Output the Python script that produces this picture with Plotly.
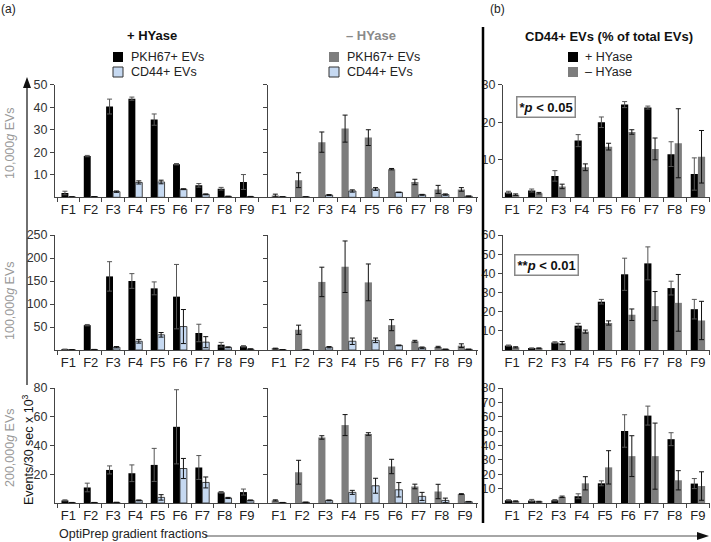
import plotly.graph_objects as go

W, H = 711, 542

fractions = ["F1", "F2", "F3", "F4", "F5", "F6", "F7", "F8", "F9"]

# 10,000g EVs
pkh_plus_10k = [1.9, 18.3, 40.3, 43.8, 34.5, 14.7, 5.3, 3.8, 6.8]
pkh_plus_10k_err = [0.8, 0.3, 3.3, 0.7, 2.5, 0.3, 0.8, 0.6, 3.3]
cd44_plus_10k = [0.2, 0.3, 2.5, 6.6, 6.8, 3.6, 1.3, 0.4, 0.3]
cd44_plus_10k_err = [0, 0, 0.3, 0.7, 0.8, 0.2, 0.2, 0.1, 0.1]
pkh_minus_10k = [0.8, 7.6, 24.5, 30.5, 26.5, 12.5, 6.8, 3.5, 3.5]
pkh_minus_10k_err = [0.6, 3.3, 4.5, 6.0, 3.5, 0.3, 1.2, 1.8, 0.8]
cd44_minus_10k = [0.2, 0.2, 1.0, 2.8, 3.7, 2.2, 1.1, 1.2, 0.5]
cd44_minus_10k_err = [0, 0, 0.2, 0.5, 0.6, 0.1, 0.2, 0.3, 0.1]
pct_plus_10k = [1.3, 1.8, 5.7, 15.1, 20.0, 24.7, 23.9, 11.5, 6.2]
pct_plus_10k_err = [0.3, 0.4, 1.4, 1.6, 1.4, 0.8, 0.4, 3.3, 4.3]
pct_minus_10k = [0.7, 1.1, 2.9, 8.0, 13.5, 17.4, 12.9, 14.4, 10.8]
pct_minus_10k_err = [0.2, 0.2, 0.6, 0.9, 0.9, 0.6, 2.9, 9.2, 7.0]

# 100,000g EVs
pkh_plus_100k = [1.5, 54, 160, 150, 134, 116, 37, 11.5, 8]
pkh_plus_100k_err = [0.5, 1.5, 32, 16, 14, 70, 19, 5, 1.5]
cd44_plus_100k = [0.5, 1, 6, 19, 33, 51, 17, 5.8, 2]
cd44_plus_100k_err = [0.2, 0.3, 1.5, 4, 5, 37, 12, 1, 0.5]
pkh_minus_100k = [3, 44, 148, 181, 147, 54, 19, 6.5, 9.4]
pkh_minus_100k_err = [1, 10, 32, 56, 40, 12, 2, 1.5, 4]
cd44_minus_100k = [0.5, 1, 6, 19, 21, 10, 5, 1.5, 1.5]
cd44_minus_100k_err = [0.2, 0.3, 1.5, 7, 5, 0.8, 1.5, 0.5, 0.5]
pct_plus_100k = [2.3, 0.9, 3.9, 12.7, 25.2, 39.5, 45.2, 32.3, 21.3]
pct_plus_100k_err = [0.3, 0.2, 0.4, 1.2, 1.2, 8.4, 8.6, 3.6, 5.1]
pct_minus_100k = [1.4, 0.9, 3.6, 9.6, 14.1, 18.4, 22.9, 24.6, 15.4]
pct_minus_100k_err = [0.3, 0.2, 0.8, 0.8, 1.1, 3.0, 7.6, 14.8, 10.0]

# 200,000g EVs
pkh_plus_200k = [1.8, 10.8, 23, 20.7, 26.5, 53, 24.7, 7.4, 7.6]
pkh_plus_200k_err = [0.4, 3, 2.8, 5.8, 11.5, 25.8, 8.3, 0.6, 2.1]
cd44_plus_200k = [0.3, 0.3, 0.4, 1.8, 3.9, 24, 14.3, 3.5, 1.8]
cd44_plus_200k_err = [0.1, 0.1, 0.1, 0.3, 1.9, 7, 3.8, 0.4, 0.3]
pkh_minus_200k = [1.8, 21.4, 45.6, 54.2, 48, 25.4, 11.5, 8, 6.2]
pkh_minus_200k_err = [0.4, 8.3, 1.2, 7.3, 0.9, 5, 1.6, 5, 0.3]
cd44_minus_200k = [0.3, 0.5, 1.8, 7.4, 12, 9.2, 4.6, 1.8, 0.9]
cd44_minus_200k_err = [0.1, 0.1, 0.3, 1.4, 5.2, 5.0, 2.8, 1.6, 0.2]
pct_plus_200k = [1.9, 1.7, 1.9, 4.7, 13.7, 50.1, 60.8, 44.4, 13.5]
pct_plus_200k_err = [0.4, 0.8, 0.5, 1.7, 1.7, 11.3, 6.6, 4.5, 3.5]
pct_minus_200k = [1.2, 0.9, 4.3, 13.7, 24.8, 32.6, 32.6, 15.8, 11.8]
pct_minus_200k_err = [0.3, 0.3, 0.5, 4.6, 11.6, 14.2, 23, 6.7, 9.9]

BLACK = "#000000"
GREY = "#7d7d7d"
BLUE = "#c6d9f1"
FONT = "Liberation Sans, Arial, sans-serif"


def px(x):
    return x / W


def py(y):
    return 1 - y / H


# pixel geometry of panels
cols = [(55, 267, [-0.6, 8.9]), (268, 478, [-0.47, 8.56]), (503, 710, [-0.39, 8.52])]
rows = [(84.7, 197.3), (235, 350), (388, 503)]
y_ranges = [[[0, 50], [0, 50], [0, 30]],
            [[0, 250], [0, 250], [0, 60]],
            [[0, 80], [0, 80], [0, 80]]]
y_ticks = [[[10, 20, 30, 40, 50]] * 2 + [[10, 20, 30]],
           [[50, 100, 150, 200, 250]] * 2 + [[10, 20, 30, 40, 50, 60]],
           [[20, 40, 60, 80]] * 2 + [[10, 20, 30, 40, 50, 60, 70, 80]]]

panels = [
    [(pkh_plus_10k, pkh_plus_10k_err, cd44_plus_10k, cd44_plus_10k_err, BLACK, BLUE),
     (pkh_minus_10k, pkh_minus_10k_err, cd44_minus_10k, cd44_minus_10k_err, GREY, BLUE),
     (pct_plus_10k, pct_plus_10k_err, pct_minus_10k, pct_minus_10k_err, BLACK, GREY)],
    [(pkh_plus_100k, pkh_plus_100k_err, cd44_plus_100k, cd44_plus_100k_err, BLACK, BLUE),
     (pkh_minus_100k, pkh_minus_100k_err, cd44_minus_100k, cd44_minus_100k_err, GREY, BLUE),
     (pct_plus_100k, pct_plus_100k_err, pct_minus_100k, pct_minus_100k_err, BLACK, GREY)],
    [(pkh_plus_200k, pkh_plus_200k_err, cd44_plus_200k, cd44_plus_200k_err, BLACK, BLUE),
     (pkh_minus_200k, pkh_minus_200k_err, cd44_minus_200k, cd44_minus_200k_err, GREY, BLUE),
     (pct_plus_200k, pct_plus_200k_err, pct_minus_200k, pct_minus_200k_err, BLACK, GREY)],
]

fig = go.Figure()
layout = {}
k = 0
for r in range(3):
    for c in range(3):
        k += 1
        xa = "x" if k == 1 else "x%d" % k
        ya = "y" if k == 1 else "y%d" % k
        v1, e1, v2, e2, c1, c2 = panels[r][c]
        fig.add_trace(go.Bar(
            x=fractions, y=v1, xaxis=xa, yaxis=ya, offsetgroup="a", marker_color=c1,
            marker_line_width=0,
            error_y=dict(type="data", array=e1, color="#555" if c1 == BLACK else "#111",
                         thickness=1, width=2.5),
            showlegend=False))
        line_w = 0.9 if c2 == BLUE else 0
        fig.add_trace(go.Bar(
            x=fractions, y=v2, xaxis=xa, yaxis=ya, offsetgroup="b", marker_color=c2,
            marker_line=dict(color="#333", width=line_w),
            error_y=dict(type="data", array=e2, color="#111", thickness=1, width=2.5),
            showlegend=False))
        x0, x1, xr = cols[c]
        y0, y1 = rows[r]
        layout["xaxis" if k == 1 else "xaxis%d" % k] = dict(
            domain=[px(x0), px(x1)], anchor=ya, range=xr, type="category",
            showline=True, linecolor="#444", linewidth=1, ticks="outside",
            tickson="boundaries", ticklen=4, tickcolor="#444", tickangle=0,
            tickfont=dict(size=13, color="#222", family=FONT), showgrid=False,
            zeroline=False, fixedrange=True, automargin=False)
        layout["yaxis" if k == 1 else "yaxis%d" % k] = dict(
            domain=[py(y1), py(y0)], anchor=xa, range=y_ranges[r][c],
            tickvals=y_ticks[r][c], showticklabels=(c != 1),
            showline=True, linecolor="#444", linewidth=1, ticks="outside",
            ticklen=4, tickcolor="#444", tickfont=dict(size=12.5, color="#333", family=FONT),
            showgrid=False, zeroline=False, fixedrange=True, automargin=False)

annotations = []


def text(x, y, s, size=12, color="#222", xanchor="center", textangle=0, **kw):
    annotations.append(dict(x=px(x), y=py(y), xref="paper", yref="paper", text=s,
                            showarrow=False, xanchor=xanchor, yanchor="middle",
                            textangle=textangle,
                            font=dict(size=size, color=color, family=FONT), **kw))


text(8, 9, "(a)", size=12)
text(497, 9, "(b)", size=12)
text(152, 36, "<b>+ HYase</b>", size=13, color="#111")
text(371, 36, "<b>– HYase</b>", size=13, color="#8a8a8a")
text(609, 37, "<b>CD44+ EVs (% of total EVs)</b>", size=13, color="#111")

text(129, 57, "PKH67+ EVs", size=12.5, xanchor="left")
text(129, 72, "CD44+ EVs", size=12.5, xanchor="left")
text(345, 57, "PKH67+ EVs", size=12.5, xanchor="left")
text(345, 72, "CD44+ EVs", size=12.5, xanchor="left")
text(583, 57, "+ HYase", size=12.5, xanchor="left")
text(583, 72, "– HYase", size=12.5, xanchor="left")

text(546, 107, "<b>*<i>p</i> &lt; 0.05</b>", size=13, color="#111",
     bordercolor="#888", borderwidth=1.5, borderpad=2)
text(546, 265, "<b>**<i>p</i> &lt; 0.01</b>", size=13, color="#111",
     bordercolor="#888", borderwidth=1.5, borderpad=2)

text(10, 143, "10,000<i>g</i> EVs", size=12.5, color="#999", textangle=-90)
text(10, 301, "100,000<i>g</i> EVs", size=12.5, color="#999", textangle=-90)
text(10, 448, "200,000<i>g</i> EVs", size=12.5, color="#999", textangle=-90)
text(28, 450, "Events/30 sec x 10<sup>3</sup>", size=12.5, color="#111", textangle=-90)

text(57, 534, "OptiPrep gradient fractions", size=12.5, xanchor="left")

shapes = []
# vertical axis arrow line and head
shapes.append(dict(type="line", xref="paper", yref="paper", x0=px(27), x1=px(27),
                   y0=py(385), y1=py(86), line=dict(color="#333", width=1.4)))
shapes.append(dict(type="path", xref="paper", yref="paper",
                   path="M %f %f L %f %f L %f %f Z" % (px(23), py(88), px(27), py(77),
                                                      px(31), py(88)),
                   fillcolor="#111", line=dict(width=0)))
# horizontal gradient arrow line and head
shapes.append(dict(type="line", xref="paper", yref="paper", x0=px(205), x1=px(700),
                   y0=py(536), y1=py(536), line=dict(color="#888", width=1.6)))
shapes.append(dict(type="path", xref="paper", yref="paper",
                   path="M %f %f L %f %f L %f %f Z" % (px(697), py(532), px(709), py(536),
                                                      px(697), py(540)),
                   fillcolor="#111", line=dict(width=0)))
# divider between (a) and (b)
shapes.append(dict(type="line", xref="paper", yref="paper", x0=px(483), x1=px(483),
                   y0=py(27), y1=py(523), line=dict(color="#000", width=2.5)))

# legend swatches
swatches = [(113, 52, BLACK, 0), (113, 67, BLUE, 1), (329, 52, GREY, 0), (329, 67, BLUE, 1),
            (568, 52, BLACK, 0), (568, 67, GREY, 0)]
for sx, sy, col, lw in swatches:
    shapes.append(dict(type="rect", xref="paper", yref="paper", x0=px(sx), x1=px(sx + 10),
                       y0=py(sy + 10), y1=py(sy), fillcolor=col,
                       line=dict(color="#333", width=lw)))

fig.update_layout(
    width=W, height=H, margin=dict(l=0, r=0, t=0, b=0),
    paper_bgcolor="white", plot_bgcolor="white",
    barmode="group", bargap=0.38, bargroupgap=0,
    font=dict(family=FONT, color="#222"),
    annotations=annotations, shapes=shapes, showlegend=False,
    **layout)

# drop the page's default body margin so the figure sits at the window corner
fig.write_html("out.html", config={"displayModeBar": False},
               post_script="document.body.style.margin='0';")
